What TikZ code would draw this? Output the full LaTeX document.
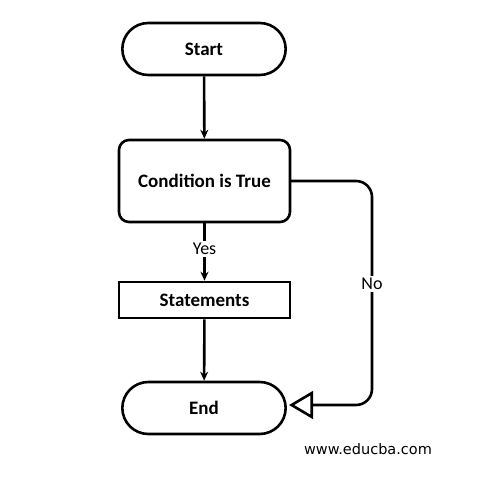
\documentclass[tikz,border=0pt]{standalone}
\usepackage{fontspec}
\setmainfont{Carlito}
\newfontfamily\urlfont{DejaVu Sans}
\usetikzlibrary{arrows.meta,shapes.misc}
\begin{document}
\begin{tikzpicture}[x=1pt,y=-1pt,
  line width=2.6pt,
  term/.style={draw,rounded rectangle,minimum width=170pt,minimum height=52pt,font=\bfseries\fontsize{19}{21}\selectfont},
  condbox/.style={draw,rounded corners=10pt,minimum width=171pt,minimum height=82pt,font=\bfseries\fontsize{19}{21}\selectfont},
  stmt/.style={draw,minimum width=171pt,minimum height=36pt,font=\bfseries\fontsize{19}{21}\selectfont},
  arr/.style={-{Stealth[length=9pt,width=8pt]}},
  openarr/.style={-{Triangle[open,scale=2.3]},rounded corners=16pt},
  lbl/.style={font=\fontsize{18}{20}\selectfont,fill=white,inner sep=2pt}]
\useasboundingbox (0,0) rectangle (492,489);
\node[term] (start) at (204,49) {Start};
\node[condbox] (cond) at (204.5,181) {Condition is True};
\node[stmt] (stm) at (204.5,300) {Statements};
\node[term] (end) at (204,408) {End};
\coordinate (c0) at (290,181);
\coordinate (c1) at (372,181);
\coordinate (c2) at (372,405);
\coordinate (c3) at (289,405);
\draw[arr] (start) -- (cond);
\draw[arr] (cond) -- node[lbl,pos=0.45] {Yes} (stm);
\draw[arr] (stm) -- (end);
\draw[openarr] (c0) -- (c1) -- (c2) -- (c3);
\node[lbl] (no) at (372,284) {No};
\node[font=\urlfont\fontsize{14.5}{16}\selectfont] (url) at (368,449) {www.educba.com};
\end{tikzpicture}
\end{document}
